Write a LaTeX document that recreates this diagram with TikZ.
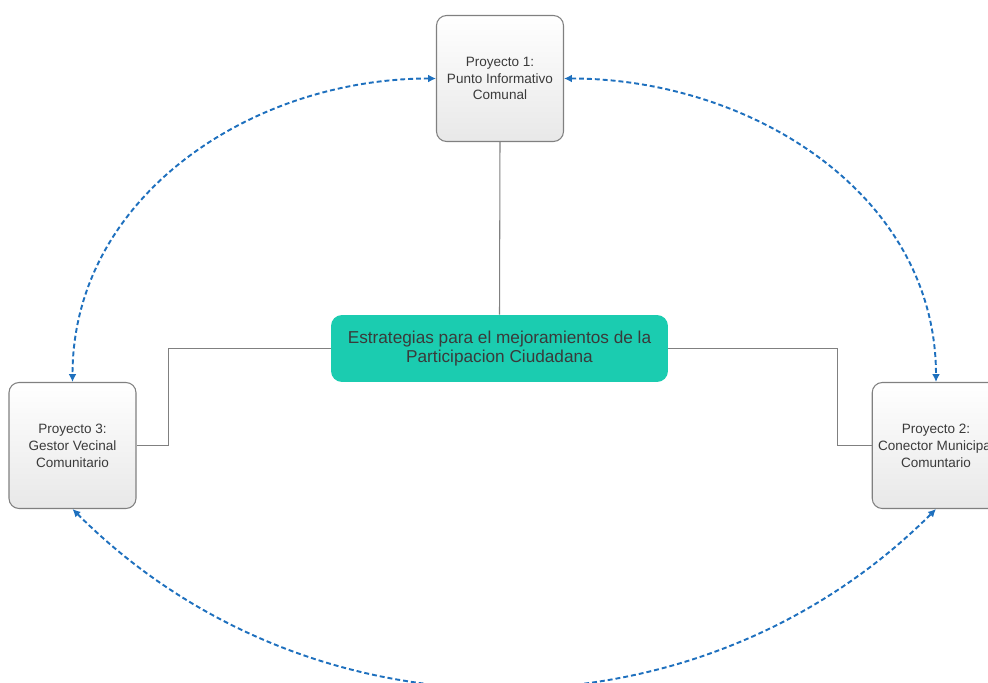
\documentclass[tikz,border=0pt]{standalone}
\usepackage{fontspec}
\setmainfont{Liberation Sans}
\usetikzlibrary{arrows.meta,shadings}

\definecolor{verde}{RGB}{27,204,176}
\definecolor{azul}{RGB}{30,112,190}
\definecolor{borde}{RGB}{128,128,128}
\definecolor{texto}{RGB}{58,58,58}

\tikzset{
  proy/.style={draw=borde,line width=0.6pt,rounded corners=0.2cm,
    top color=white,bottom color=black!9,
    minimum width=2.54cm,minimum height=2.52cm,align=center,
    text=texto,font=\fontsize{7.7}{9.6}\selectfont},
  estr/.style={fill=verde,rounded corners=0.22cm,minimum width=6.74cm,
    minimum height=1.34cm,align=center,text=texto,
    font=\fontsize{9.8}{11.3}\selectfont},
  con/.style={draw=borde,line width=0.6pt},
  rel/.style={draw=azul,line width=1.1pt,dash pattern=on 2.8pt off 1.7pt,
    {Latex[length=4.5pt,width=4.5pt]}-{Latex[length=4.5pt,width=4.5pt]}}
}

\begin{document}
\begin{tikzpicture}[x=0.02cm,y=-0.02cm]

\useasboundingbox (0,0) rectangle (988,683);
\clip (0,0) rectangle (988,683);

% proyectos
\def\proys{p1/500/78.5/{Proyecto 1:\\Punto Informativo\\Comunal},
  p2/936/445.5/{Proyecto 2:\\Conector Municipal\\Comuntario},
  p3/72.5/445.5/{Proyecto 3:\\Gestor Vecinal\\Comunitario}}
\foreach \n / \x / \y / \t in \proys
  \node [proy] (\n) at (\x,\y) {\t};

\node [estr] (ce) at (499.5,348.5) {Estrategias para el mejoramientos de la\\Participacion Ciudadana};

% conectores
\draw [con] (p1.south) -- (ce.north);
\draw [con] (ce.west) -- ++(-162,0) |- (p3.east);
\draw [con] (ce.east) -- ++(169,0) |- (p2.west);

% relaciones
\draw [rel] (p1.west) to[out=180,in=90] (p3.north);
\draw [rel] (p1.east) to[out=0,in=90] (p2.north);
\draw [rel] (p3.south) to[out=-45,in=-135] (p2.south);

\end{tikzpicture}
\end{document}
